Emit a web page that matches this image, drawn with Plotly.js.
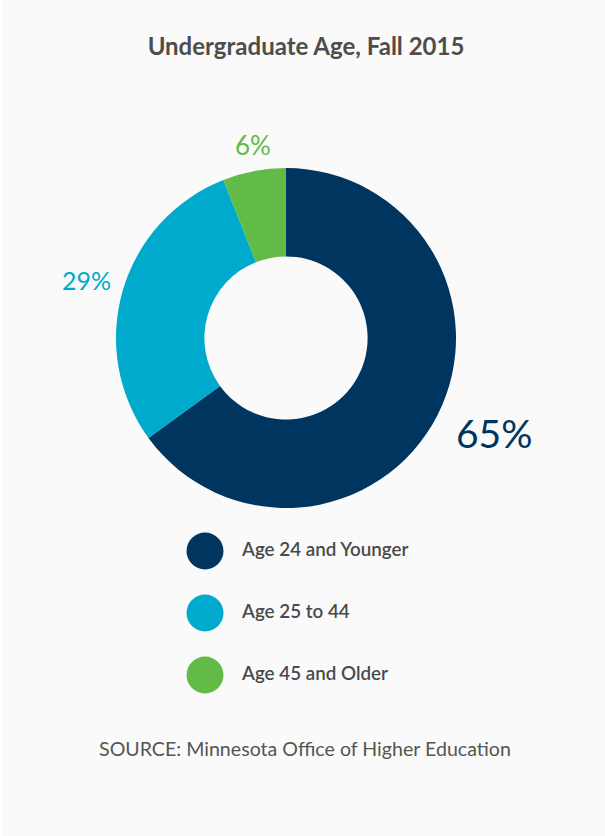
<!DOCTYPE html>
<html>
<head>
<meta charset="utf-8">
<script src="https://cdn.plot.ly/plotly-3.0.1.min.js"></script>
<style>
  html, body { margin: 0; padding: 0; background: #ffffff; }
  #chart { width: 605px; height: 836px; }
</style>
</head>
<body>
<div id="chart"></div>
<script>
const categories = ["Age 24 and Younger", "Age 25 to 44", "Age 45 and Older"];
const shares = [65, 29, 6];
const colors = ["#00355f", "#00aacc", "#62bb46"];
const titleText = "Undergraduate Age, Fall 2015";
const sourceText = "SOURCE: Minnesota Office of Higher Education";

const W = 605, H = 836;
const cx = 286, cy = 338, R = 170;

const pie = {
  type: "pie",
  values: shares,
  labels: categories,
  marker: { colors: colors, line: { width: 0 } },
  hole: 0.48,
  sort: false,
  direction: "clockwise",
  rotation: 0,
  textinfo: "none",
  hoverinfo: "label+percent",
  showlegend: false,
  domain: { x: [(cx - R) / W, (cx + R) / W], y: [1 - (cy + R) / H, 1 - (cy - R) / H] }
};

const legendMarkers = {
  type: "scatter",
  mode: "markers",
  x: categories.map(() => 205),
  y: categories,
  marker: { color: colors, size: 37 },
  xaxis: "x", yaxis: "y",
  showlegend: false, hoverinfo: "skip"
};
const legendText = {
  type: "scatter",
  mode: "text",
  x: categories.map(() => 242),
  y: categories,
  text: categories,
  textposition: "middle right",
  textfont: { family: "Lato, sans-serif", size: 18.8, color: "#4a4a4a", weight: 600 },
  xaxis: "x", yaxis: "y",
  showlegend: false, hoverinfo: "skip"
};

// label positions (layout) for each slice's percentage
const labelPos = [
  { x: 494, y: 433, size: 39 },
  { x: 87, y: 280, size: 25 },
  { x: 253, y: 145, size: 26 }
];
const annotations = shares.map((v, i) => ({
  text: v + "%",
  xref: "paper", yref: "paper",
  x: labelPos[i].x / W, y: 1 - labelPos[i].y / H,
  xanchor: "center", yanchor: "middle",
  showarrow: false,
  font: { family: "Lato, sans-serif", size: labelPos[i].size, color: colors[i] }
}));
annotations.push({
  text: sourceText,
  xref: "paper", yref: "paper",
  x: 305 / W, y: 1 - 748 / H,
  xanchor: "center", yanchor: "middle",
  showarrow: false,
  font: { family: "Lato, sans-serif", size: 19.6, color: "#555555" }
});

const layout = {
  width: W, height: H,
  margin: { l: 0, r: 0, t: 0, b: 0 },
  paper_bgcolor: "#fafafa",
  plot_bgcolor: "rgba(0,0,0,0)",
  title: {
    text: "<b>" + titleText + "</b>",
    x: 306 / W, xanchor: "center",
    y: 1 - 47 / H, yanchor: "middle",
    font: { family: "Lato, sans-serif", size: 24, color: "#4d4d4d" }
  },
  xaxis: { domain: [0, 1], range: [0, W], visible: false, fixedrange: true },
  yaxis: {
    domain: [1 - 706 / H, 1 - 520 / H],
    type: "category", categoryorder: "array", categoryarray: categories,
    range: [2.5, -0.5], visible: false, fixedrange: true
  },
  annotations: annotations,
  shapes: [{ type: "rect", xref: "paper", yref: "paper", x0: 0, x1: 3 / W, y0: 0, y1: 1, fillcolor: "#ffffff", line: { width: 0 }, layer: "below" }]
};

Plotly.newPlot("chart", [pie, legendMarkers, legendText], layout, { displayModeBar: false, staticPlot: true });
</script>
</body>
</html>
